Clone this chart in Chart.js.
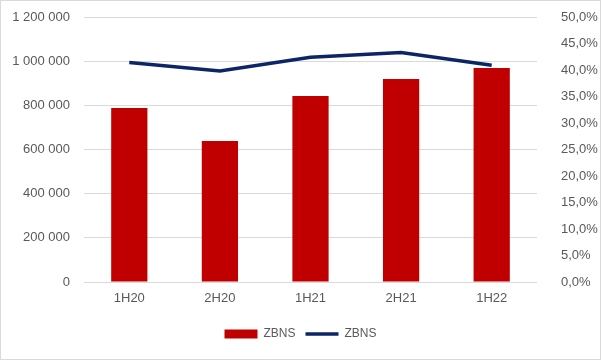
<!DOCTYPE html>
<html>
<head>
<meta charset="utf-8">
<script src="https://cdn.jsdelivr.net/npm/chart.js@4/dist/chart.umd.min.js"></script>
<style>
  html, body { margin: 0; padding: 0; background: #fff; }
  #wrap { width: 601px; height: 360px; }
</style>
</head>
<body>
<div id="wrap"><canvas id="chart" width="601" height="360"></canvas></div>
<script>
const categories = ['1H20', '2H20', '1H21', '2H21', '1H22']
const barValues = [788000, 638000, 842000, 919000, 969000]
const lineValues = [41.4, 39.8, 42.4, 43.3, 40.9]
const seriesNames = ['ZBNS', 'ZBNS']

const textColor = '#595959'
const gridColor = '#d9d9d9'
const font = { family: 'Liberation Sans', size: 13 }

function spaced(v) {
  return String(v).replace(/\B(?=(\d{3})+(?!\d))/g, ' ')
}

// thin grey frame round the whole chart, like the Excel chart area
const border = {
  id: 'border',
  afterDraw(chart) {
    const ctx = chart.ctx
    ctx.save()
    ctx.strokeStyle = gridColor
    ctx.lineWidth = 1
    ctx.strokeRect(0.5, 0.5, chart.width - 1, chart.height - 1)
    ctx.restore()
  }
}

// tick padding also pads the axis top/bottom in v4, undo that
function fixPad(s, width) {
  s.width = width
  s.paddingTop = 8
  s.paddingBottom = 8
}

new Chart(document.getElementById('chart'), {
  type: 'bar',
  data: {
    labels: categories,
    datasets: [
      {
        type: 'bar',
        label: seriesNames[0],
        data: barValues,
        backgroundColor: '#c00000',
        borderWidth: 0,
        yAxisID: 'y',
        categoryPercentage: 1,
        barPercentage: 0.4,
        pointStyle: 'rect',
        order: 2
      },
      {
        type: 'line',
        label: seriesNames[1],
        data: lineValues,
        borderColor: '#0b2566',
        backgroundColor: '#0b2566',
        borderWidth: 3.5,
        pointRadius: 0,
        pointStyle: 'line',
        tension: 0,
        yAxisID: 'y1',
        order: 1
      }
    ]
  },
  options: {
    responsive: false,
    animation: false,
    layout: { padding: { top: 17, bottom: 10, left: 0, right: 0 } },
    plugins: {
      legend: {
        position: 'bottom',
        reverse: true,
        labels: {
          color: textColor,
          font: { family: 'Liberation Sans', size: 12 },
          usePointStyle: true,
          pointStyleWidth: 33,
          boxHeight: 9,
          padding: 10
        }
      },
      tooltip: { enabled: false }
    },
    scales: {
      x: {
        grid: { display: false, drawTicks: false },
        border: { display: false },
        ticks: { color: textColor, font: font, padding: 9 },
        afterFit(s) { s.height = 36 }
      },
      y: {
        position: 'left',
        min: 0,
        max: 1200000,
        grid: { color: gridColor, drawTicks: false },
        border: { display: false },
        ticks: {
          stepSize: 200000,
          color: textColor,
          font: font,
          padding: 14,
          callback: v => spaced(v)
        },
        afterFit(s) { fixPad(s, 84) }
      },
      y1: {
        position: 'right',
        min: 0,
        max: 50,
        grid: { display: false, drawTicks: false },
        border: { display: false },
        ticks: {
          stepSize: 5,
          color: textColor,
          font: font,
          padding: 24,
          callback: v => v.toFixed(1).replace('.', ',') + '%'
        },
        afterFit(s) { fixPad(s, 64) }
      }
    }
  },
  plugins: [border]
})
</script>
</body>
</html>
